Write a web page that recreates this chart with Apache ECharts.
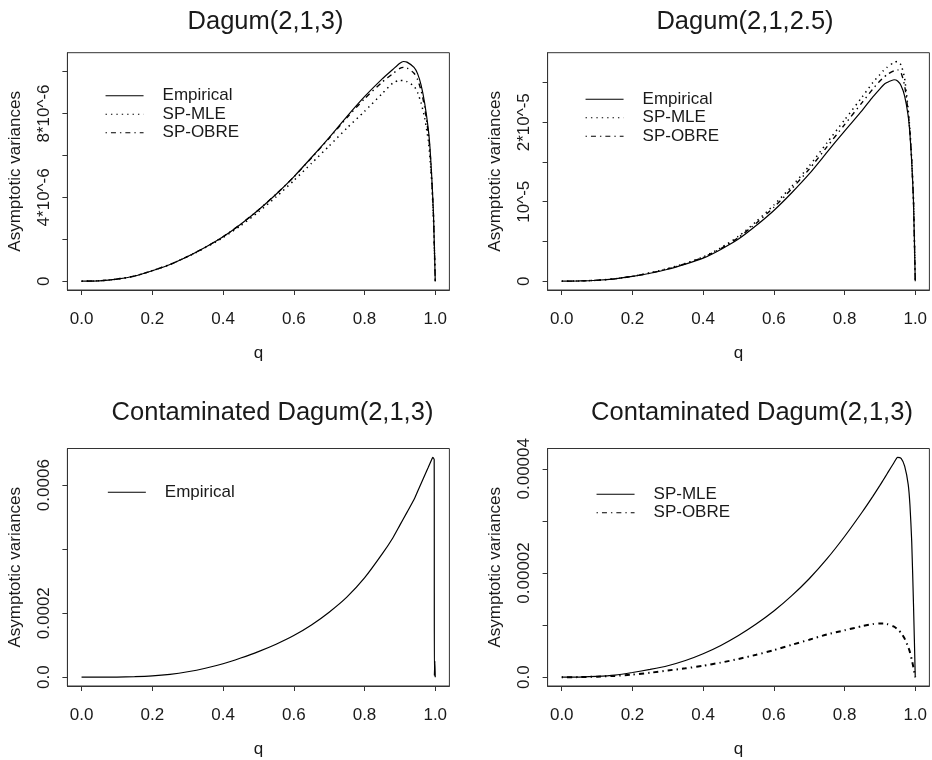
<!DOCTYPE html>
<html><head><meta charset="utf-8">
<script src="https://cdn.jsdelivr.net/npm/echarts@6/dist/echarts.min.js"></script>
<style>html,body{margin:0;padding:0;background:#fff}#c{width:932px;height:760px}</style>
</head><body><div id="c"></div>
<script>
// ---------------- DATA ----------------
const qTop = [0,0.05,0.1,0.15,0.2,0.25,0.3,0.35,0.4,0.45,0.5,0.55,0.6,0.65,0.7,0.75,0.8,0.85,0.88,0.9,0.91,0.92,0.94,0.95,0.96,0.97,0.98,0.985,0.99,0.995,1];
// Panel 1: Dagum(2,1,3)  (units 1e-6)
const p1Unit = 1e-6;
const p1Empirical = [0,0.02,0.1,0.25,0.5,0.8,1.18,1.62,2.12,2.72,3.4,4.15,4.98,5.9,6.85,7.85,8.8,9.65,10.1,10.4,10.48,10.45,10.2,9.9,9.35,8.5,7.3,6.4,5.0,3.2,0];
const p1SPMLE    = [0,0.02,0.1,0.25,0.5,0.8,1.17,1.6,2.08,2.65,3.3,4.02,4.8,5.62,6.45,7.3,8.1,8.95,9.45,9.58,9.57,9.52,9.3,9.0,8.5,7.8,6.75,5.9,4.7,3.0,0];
const p1SPOBRE   = [0,0.02,0.1,0.25,0.5,0.8,1.18,1.62,2.12,2.72,3.4,4.15,4.97,5.88,6.82,7.8,8.7,9.5,9.9,10.15,10.2,10.17,9.92,9.62,9.1,8.3,7.1,6.25,4.9,3.1,0];
// Panel 2: Dagum(2,1,2.5)  (units 1e-5)
const p2Unit = 1e-5;
const p2Empirical = [0,0.003,0.012,0.03,0.06,0.1,0.15,0.215,0.29,0.4,0.53,0.7,0.89,1.11,1.35,1.62,1.89,2.15,2.32,2.42,2.47,2.5,2.535,2.52,2.46,2.33,2.08,1.85,1.5,1.0,0];
const p2SPMLE    = [0,0.003,0.012,0.03,0.062,0.105,0.16,0.225,0.305,0.42,0.565,0.75,0.96,1.19,1.45,1.74,2.03,2.32,2.5,2.6,2.65,2.69,2.755,2.765,2.72,2.55,2.16,1.9,1.53,1.02,0];
const p2SPOBRE   = [0,0.003,0.012,0.03,0.061,0.103,0.155,0.22,0.3,0.41,0.55,0.73,0.93,1.16,1.41,1.69,1.97,2.25,2.42,2.52,2.56,2.6,2.65,2.66,2.62,2.46,2.12,1.87,1.51,1.01,0];
// Panel 3: Contaminated Dagum(2,1,3), Empirical (units 1e-4)
const qP3 = [0,0.05,0.1,0.15,0.2,0.25,0.3,0.35,0.4,0.45,0.5,0.55,0.6,0.65,0.7,0.75,0.8,0.85,0.88,0.9,0.92,0.94,0.95,0.96,0.97,0.98,0.99,0.993,0.997,0.9975,0.999,1];
const p3Unit = 1e-4;
const p3Empirical = [0,0.0005,0.004,0.015,0.04,0.09,0.17,0.28,0.42,0.6,0.8,1.03,1.3,1.63,2.03,2.5,3.1,3.85,4.35,4.75,5.15,5.55,5.8,6.05,6.3,6.55,6.8,6.87,6.8,0.05,0.5,0];
// Panel 4: Contaminated Dagum(2,1,3), SP-MLE / SP-OBRE (units 1e-5)
const p4Unit = 1e-5;
const p4SPMLE  = [0,0.003,0.015,0.04,0.09,0.15,0.22,0.32,0.45,0.61,0.8,1.02,1.27,1.56,1.89,2.27,2.7,3.17,3.47,3.68,3.79,3.9,4.12,4.22,4.2,4.05,3.7,3.3,2.6,1.4,0];
const p4SPOBRE = [0,0.002,0.01,0.025,0.05,0.085,0.13,0.17,0.22,0.28,0.35,0.43,0.52,0.62,0.72,0.82,0.9,0.98,1.02,1.03,1.03,1.02,0.97,0.92,0.85,0.74,0.58,0.48,0.34,0.18,0];

// Ticks and labels
const xTicks = [0,0.2,0.4,0.6,0.8,1.0];
const xTickLabels = ['0.0','0.2','0.4','0.6','0.8','1.0'];
const p1YTicks = [0,2e-6,4e-6,6e-6,8e-6,10e-6];
const p1YLabelVals = [0,4e-6,8e-6];
const p1YLabels = ['0','4*10^-6','8*10^-6'];
const p2YTicks = [0,0.5e-5,1e-5,1.5e-5,2e-5,2.5e-5];
const p2YLabelVals = [0,1e-5,2e-5];
const p2YLabels = ['0','10^-5','2*10^-5'];
const p3YTicks = [0,2e-4,4e-4,6e-4];
const p3YLabelVals = [0,2e-4,6e-4];
const p3YLabels = ['0.0','0.0002','0.0006'];
const p4YTicks = [0,1e-5,2e-5,3e-5,4e-5];
const p4YLabelVals = [0,2e-5,4e-5];
const p4YLabels = ['0.0','0.00002','0.00004'];

const titles = ['Dagum(2,1,3)','Dagum(2,1,2.5)','Contaminated Dagum(2,1,3)','Contaminated Dagum(2,1,3)'];

// ---------------- STYLE / LAYOUT ----------------
const FONT = '"Liberation Sans", Arial, Helvetica, sans-serif';
const TXT = '#1a1a1a';
const LINE = '#333';
const SOLID = 'solid', DOT = [1.4,4], DASHDOT = [1.4,4,5,4];

const panels = [
  {left:67.4, top:52.7, width:382, height:237.3, titleX:265.5, titleY:9, legend:{left:105, top:87.2}},
  {left:547.6, top:52.7, width:381.8, height:237.3, titleX:745, titleY:9, legend:{left:585, top:90.8}},
  {left:67.4, top:448.5, width:382, height:237.5, titleX:272.5, titleY:400, legend:{left:107.3, top:483.8}},
  {left:547.6, top:448.5, width:381.8, height:237.5, titleX:752, titleY:400, legend:{left:596, top:485.8}}
];

const panelSeries = [
  {q:qTop, unit:p1Unit, ticks:p1YTicks, lv:p1YLabelVals, ll:p1YLabels,
   series:[['Empirical',p1Empirical,SOLID,1.2],['SP-MLE',p1SPMLE,DOT,1.5],['SP-OBRE',p1SPOBRE,DASHDOT,1.4]]},
  {q:qTop, unit:p2Unit, ticks:p2YTicks, lv:p2YLabelVals, ll:p2YLabels,
   series:[['Empirical',p2Empirical,SOLID,1.2],['SP-MLE',p2SPMLE,DOT,1.5],['SP-OBRE',p2SPOBRE,DASHDOT,1.4]]},
  {q:qP3, unit:p3Unit, ticks:p3YTicks, lv:p3YLabelVals, ll:p3YLabels,
   series:[['Empirical',p3Empirical,SOLID,1.2]]},
  {q:qTop, unit:p4Unit, ticks:p4YTicks, lv:p4YLabelVals, ll:p4YLabels,
   series:[['SP-MLE',p4SPMLE,SOLID,1.2],['SP-OBRE',p4SPOBRE,DASHDOT,2]]}
];

function labelFor(vals, labels){
  return function(v){
    let best = 0, bd = Infinity;
    vals.forEach((t,i)=>{ const d = Math.abs(t - v); if (d < bd){bd=d; best=i;} });
    return labels[best];
  };
}

const grid=[], xAxis=[], yAxis=[], series=[], legend=[], title=[];
panels.forEach((p,i)=>{
  const ps = panelSeries[i];
  grid.push({left:p.left, top:p.top, width:p.width, height:p.height, show:true,
    borderColor:LINE, borderWidth:1, backgroundColor:'transparent', containLabel:false, outerBoundsMode:'none'});
  xAxis.push({type:'value', gridIndex:i, min:-0.04, max:1.04,
    axisLine:{show:true, onZero:false, lineStyle:{color:LINE, width:1}},
    splitLine:{show:false},
    axisTick:{show:true, length:5, inside:false, customValues:xTicks, lineStyle:{color:LINE, width:1}},
    axisLabel:{show:true, customValues:xTicks, formatter:labelFor(xTicks,xTickLabels), margin:21,
      fontSize:17, color:TXT, fontFamily:FONT},
    name:'q', nameLocation:'middle', nameGap:55,
    nameTextStyle:{fontSize:17, color:TXT, fontFamily:FONT}
  });
  let ymax = 0;
  ps.series.forEach(s=>s[1].forEach(v=>{ if (v*ps.unit > ymax) ymax = v*ps.unit; }));
  yAxis.push({type:'value', gridIndex:i, min:-0.04*ymax, max:1.04*ymax,
    axisLine:{show:true, onZero:false, lineStyle:{color:LINE, width:1}},
    splitLine:{show:false},
    axisTick:{show:true, length:5, inside:false, customValues:ps.ticks, lineStyle:{color:LINE, width:1}},
    axisLabel:{show:true, rotate:90, customValues:ps.lv, formatter:labelFor(ps.lv, ps.ll), margin:15,
      fontSize:17, color:TXT, fontFamily:FONT},
    name:'Asymptotic variances', nameLocation:'middle', nameGap:44, nameRotate:90,
    nameTextStyle:{fontSize:17, color:TXT, fontFamily:FONT}
  });
  const names=[];
  ps.series.forEach(s=>{
    const nm = s[0] + '#' + i;
    names.push(nm);
    series.push({type:'line', name:nm, xAxisIndex:i, yAxisIndex:i,
      data: ps.q.map((q,k)=>[q, s[1][k]*ps.unit]),
      showSymbol:false, symbol:'none', smooth:0.2, silent:true,
      lineStyle:{color:'#000', width:s[3], type:s[2]},
      itemStyle:{color:'#000'}
    });
  });
  legend.push({left:p.legend.left, top:p.legend.top, orient:'vertical', padding:0,
    itemWidth:38, itemHeight:1, itemGap:1.5, data:names, selectedMode:false,
    formatter:n=>n.split('#')[0],
    itemStyle:{color:'rgba(0,0,0,0)', borderWidth:0, opacity:0},
    lineStyle:{width:1.1},
    textStyle:{fontSize:17, color:TXT, fontFamily:FONT, padding:[0,0,0,14]}
  });
  title.push({text:titles[i], left:p.titleX, top:p.titleY, textAlign:'center', padding:0,
    textStyle:{fontSize:25.5, fontWeight:'normal', color:TXT, fontFamily:FONT}});
});

const chart = echarts.init(document.getElementById('c'), null, {renderer:'canvas'});
chart.setOption({animation:false, backgroundColor:'#fff', title, grid, xAxis, yAxis, series, legend});
</script>
</body></html>
